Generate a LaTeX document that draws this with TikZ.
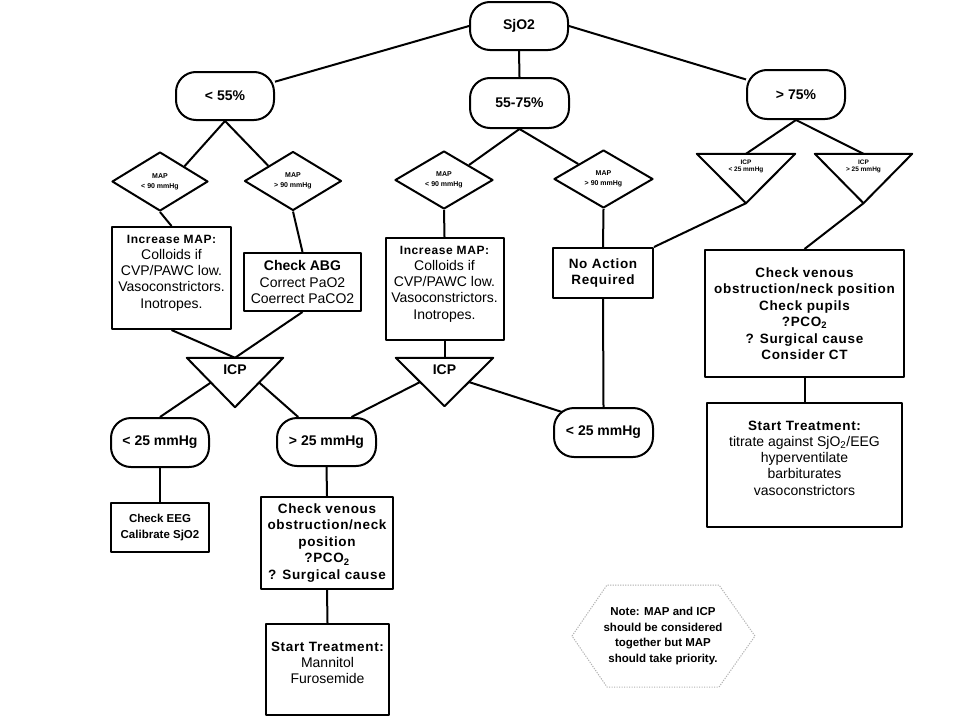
\documentclass[tikz,border=0pt]{standalone}
\usepackage{fontspec}
\setmainfont{Liberation Sans}
\newfontfamily\spacedfont{Liberation Sans}[LetterSpace=5]
\usetikzlibrary{shapes.geometric,calc}
\newcommand\fsz[2]{\fontsize{#1}{#2}\selectfont}
\begin{document}
\begin{tikzpicture}[x=1pt,y=-1pt,
  conn/.style={line width=2pt},
  stad/.style={draw, line width=2pt, rounded corners=20pt, minimum width=98pt, minimum height=48pt, inner sep=0pt, font=\fsz{14}{16}\bfseries},
  box/.style={draw, line width=2pt, inner sep=0pt, align=center},
  txt/.style={inner sep=0pt, align=center},
  dia/.style={draw, diamond, line width=2pt, minimum width=97pt, minimum height=59pt, inner sep=0pt, align=center, font=\fsz{7}{10}\bfseries},
  tri/.style={inner sep=0pt, minimum width=97pt, minimum height=49pt},
  body/.style={font=\fsz{14}{16.3}},
  sbold/.style={font=\spacedfont\bfseries\fsz{13.5}{16.5}},
  line join=round
]
\useasboundingbox[fill=white] (0,0) rectangle (960,720);

% top level
\node[stad] (sjo2) at (519,26) {SjO2};
\node[stad, minimum width=99pt, minimum height=50pt] (mid) at (519.5,103) {55-75\%};
\node[stad] (lt55) at (225,96) {< 55\%};
\node[stad, minimum height=49pt] (gt75) at (796,94.5) {> 75\%};

% MAP diamonds
\node[dia, minimum width=96pt] (dl1) at (160,181.5) {MAP\\< 90 mmHg};
\node[dia] (dr1) at (293,181) {MAP\\> 90 mmHg};
\node[dia, minimum width=98pt, minimum height=58pt] (dl2) at (444,180) {MAP\\< 90 mmHg};
\node[dia, minimum width=99pt, minimum height=58pt] (dr2) at (603.5,179) {MAP\\> 90 mmHg};

% small ICP triangles
\node[tri, minimum width=98pt] (t1) at (746,178.5) {};
\node[tri] (t2) at (863.5,178.5) {};
\draw[conn] (t1.north west) -- (t1.north east) -- (t1.south) -- cycle;
\draw[conn] (t2.north west) -- (t2.north east) -- (t2.south) -- cycle;
\node[txt, font=\fsz{6.5}{7.5}\bfseries] (t1t) at (746,166.5) {ICP\\< 25 mmHg};
\node[txt, font=\fsz{6.5}{7.5}\bfseries] (t2t) at (863.5,166.5) {ICP\\> 25 mmHg};

% second-level boxes
\node[box, minimum width=119pt, minimum height=102pt] (im1) at (171.5,278) {};
\node[txt, body] (im1t) at (171.5,273) {{\spacedfont\bfseries\fsz{12}{16.3}Increase MAP:}\\Colloids if\\CVP/PAWC low.\\Vasoconstrictors.\\Inotropes.};
\node[box, body, minimum width=117pt, minimum height=58pt] (abg) at (302.5,282) {{\bfseries Check ABG}\\Correct PaO2\\Coerrect PaCO2};
\node[box, minimum width=118pt, minimum height=102pt] (im2) at (444.5,289) {};
\node[txt, body] (im2t) at (444.5,284) {{\spacedfont\bfseries\fsz{12}{16.3}Increase MAP:}\\Colloids if\\CVP/PAWC low.\\Vasoconstrictors.\\Inotropes.};
\node[box, sbold, minimum width=100pt, minimum height=50pt] (noact) at (603,273) {No Action\\Required};
\node[box, sbold, minimum width=199pt, minimum height=127pt] (cv2) at (804.5,313.5) {Check venous\\obstruction/neck position\\Check pupils\\?PCO\textsubscript{2}\\? Surgical cause\\Consider CT};
\node[box, minimum width=195pt, minimum height=124pt] (st2) at (804.5,465) {};
\node[txt, body] (st2t) at (804.5,458) {{\spacedfont\bfseries\fsz{13.5}{16.5}Start Treatment:}\\titrate against SjO\textsubscript{2}/EEG\\hyperventilate\\barbiturates\\vasoconstrictors};

% big ICP triangles
\node[tri, minimum width=96pt] (icp1) at (235,382.5) {};
\node[tri, minimum height=48pt] (icp2) at (444.5,382) {};
\draw[conn] (icp1.north west) -- (icp1.north east) -- (icp1.south) -- cycle;
\draw[conn] (icp2.north west) -- (icp2.north east) -- (icp2.south) -- cycle;
\node[txt, font=\fsz{14}{16}\bfseries] (icp1t) at (235,370) {ICP};
\node[txt, font=\fsz{14}{16}\bfseries] (icp2t) at (444.5,370) {ICP};

% ICP outcomes
\node[stad, minimum height=49pt] (lt25l) at (160,442.5) {< 25 mmHg};
\node[stad, minimum width=99pt] (gt25) at (326.5,442) {> 25 mmHg};
\node[stad, minimum width=99pt, minimum height=49pt] (lt25r) at (603.5,432.5) {< 25 mmHg};

\node[box, font=\bfseries\fsz{11.5}{16}, minimum width=98pt, minimum height=49pt] (eeg) at (160,527.5) {Check EEG\\Calibrate SjO2};
\node[box, sbold, minimum width=132pt, minimum height=92pt] (cv1) at (327,543) {Check venous\\obstruction/neck\\position\\?PCO\textsubscript{2}\\? Surgical cause};
\node[box, minimum width=123pt, minimum height=91pt] (st1) at (327.5,669.5) {};
\node[txt, body] (st1t) at (327.5,663) {{\spacedfont\bfseries\fsz{13.5}{16.5}Start Treatment:}\\Mannitol\\Furosemide};

% note
\node[txt, font=\bfseries\fsz{11.5}{15.7}] (note) at (663,636) {Note: MAP and ICP\\should be considered\\together but MAP\\should take priority.};
\draw[gray!60, line width=1pt, dash pattern=on 1.2pt off 1.3pt]
  ($(note)+(-91,0)$) -- ($(note)+(-56,-51)$) -- ($(note)+(56,-51)$) -- ($(note)+(92,0)$) -- ($(note)+(56,51)$) -- ($(note)+(-56,51)$) -- cycle;

% connectors
\draw[conn] (sjo2.west) -- (lt55);
\draw[conn] (sjo2.east) -- (gt75);
\draw[conn] (sjo2.south) -- (mid.north);
\draw[conn] (lt55.south) -- (dl1.north east);
\draw[conn] (lt55.south) -- (dr1.north west);
\draw[conn] (mid.south) -- (dl2.north east);
\draw[conn] (mid.south) -- (dr2.north west);
\draw[conn] (gt75.south) -- (t1.north);
\draw[conn] (gt75.south) -- (t2.north);
\draw[conn] (dl1.south) -- (im1.north);
\draw[conn] (dr1.south) -- (abg.north);
\draw[conn] (dl2.south) -- (im2.north);
\draw[conn] (dr2.south) -- (noact.north);
\draw[conn] (t1.south) -- (noact.north east);
\draw[conn] (t2.south) -- (cv2.north);
\draw[conn] (im1.south) -- (icp1.north);
\draw[conn] (abg.south) -- (icp1.north);
\draw[conn] (im2.south) -- (icp2.north);
\draw[conn] (noact.south) -- (lt25r.north);
\draw[conn] (cv2.south) -- (st2.north);
\draw[conn] ($(icp1.north west)!0.5!(icp1.south)$) -- (lt25l.north);
\draw[conn] ($(icp1.north east)!0.5!(icp1.south)$) -- (gt25);
\draw[conn] ($(icp2.north west)!0.5!(icp2.south)$) -- ($(gt25.north)+(25,0)$);
\draw[conn] ($(icp2.north east)!0.5!(icp2.south)$) -- ($(lt25r.north west)+(9,5)$);
\draw[conn] (lt25l.south) -- (eeg.north);
\draw[conn] (gt25.south) -- (cv1.north);
\draw[conn] (cv1.south) -- (st1.north);
\end{tikzpicture}
\end{document}
